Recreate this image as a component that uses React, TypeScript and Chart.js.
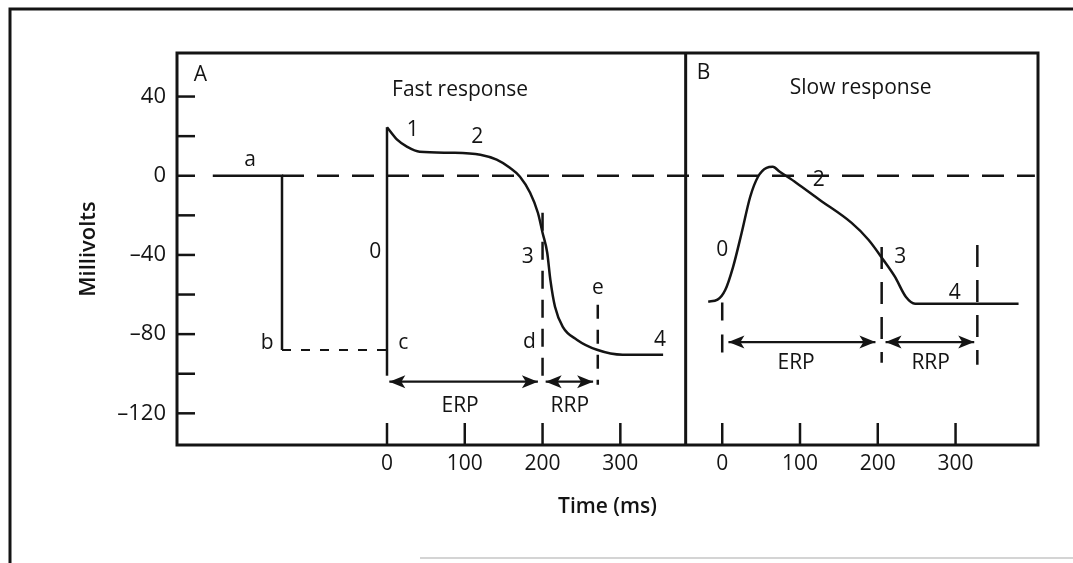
import React, { useEffect, useRef } from 'react';
import { Chart, registerables } from 'chart.js';

Chart.register(...registerables);

const INK = '#141414';
const FONT = "'Open Sans', 'DejaVu Sans', sans-serif";

// ---- axes (shared time axis; panel B is shifted by B_OFFSET) ----
const X_MIN = -270;
const X_MAX = 837;
const Y_MIN = -136;
const Y_MAX = 62;
const B_OFFSET = 431;
const PANEL_DIVIDER_X = 384;
const TIME_TICKS = [0, 100, 200, 300];
const MV_TICKS = [40, 20, 0, -20, -40, -60, -80, -100, -120];
const MV_LABELED = [40, 0, -40, -80, -120];

// ---- Panel A: fast response ----
const restT = [-224, -135, -135];
const restV = [0, 0, -88];
const restDashT = [-135, 0];
const restDashV = [-88, -88];
const zeroT = [-135, 833];
const zeroV = [0, 0];
const upstrokeT = [0, 0];
const upstrokeV = [-101, 24.5];
const fastT = [0, 13, 26, 42, 85, 120, 141, 158, 171, 184, 194, 200, 206, 210, 216, 226, 244, 270, 303, 355];
const fastV = [24.5, 18.2, 14.6, 12.1, 11.6, 10.6, 8.1, 4.0, -0.5, -8.6, -18.7, -28.8, -38.9, -52.5, -66.2, -76.3, -82.8, -87.9, -90.4, -90.4];
const markDT = [200, 200];
const markDV = [-18.7, -106.6];
const markET = [271, 271];
const markEV = [-65.2, -105.6];
const erpAT = [3, 194];
const erpAV = [-104, -104];
const rrpAT = [204, 265];
const rrpAV = [-104, -104];

// ---- Panel B: slow response (times in panel-B ms) ----
const slowT = [-18, -6, 4, 14, 25, 36, 46, 57, 65, 74, 95, 125, 166, 188, 207, 222, 236, 248, 381];
const slowV = [-63.6, -62.6, -57.6, -46, -28.8, -10.6, -0.5, 4.0, 4.5, 2.0, -3.5, -12.1, -23.7, -32.3, -42.4, -51, -61.1, -64.6, -64.6];
const markB0T = [0, 0];
const markB0V = [-64, -89.5];
const markB1T = [205, 205];
const markB1V = [-36, -94.5];
const markB2T = [328, 328];
const markB2V = [-35, -95.5];
const erpBT = [8, 197];
const erpBV = [-84, -84];
const rrpBT = [210, 324];
const rrpBV = [-84, -84];

// ---- text annotations (data coordinates) ----
const LABELS_A = [
  { text: 'A', t: -240, v: 51 },
  { text: 'Fast response', t: 94, v: 43.5 },
  { text: 'a', t: -176, v: 8 },
  { text: 'b', t: -154, v: -84.5 },
  { text: '0', t: -15, v: -38.5 },
  { text: '1', t: 33, v: 23 },
  { text: '2', t: 116, v: 19.5 },
  { text: '3', t: 181, v: -41 },
  { text: 'c', t: 21, v: -84.5 },
  { text: 'd', t: 183, v: -84 },
  { text: 'e', t: 271, v: -56.5 },
  { text: '4', t: 351, v: -83 },
  { text: 'ERP', t: 94, v: -116.5 },
  { text: 'RRP', t: 235, v: -116.5 },
];
const LABELS_B = [
  { text: 'B', t: -24, v: 52 },
  { text: 'Slow response', t: 178, v: 44.5 },
  { text: '0', t: 0, v: -37.5 },
  { text: '2', t: 124, v: -2 },
  { text: '3', t: 229, v: -41 },
  { text: '4', t: 299, v: -59 },
  { text: 'ERP', t: 95, v: -94.5 },
  { text: 'RRP', t: 268, v: -94.5 },
];

const pts = (t: number[], v: number[], off = 0) => t.map((x, i) => ({ x: x + off, y: v[i] }));

const mk = (data: any[], extra: any = {}) => ({
  data,
  borderColor: INK,
  backgroundColor: INK,
  borderWidth: 2.5,
  pointRadius: 0,
  fill: false,
  tension: 0,
  ...extra,
});

const fmtMv = (v: number) => (v < 0 ? '\u2013' + Math.abs(v) : String(v));

const framePlugin = {
  id: 'figureFrame',
  beforeDraw(chart: any) {
    const { ctx } = chart;
    ctx.save();
    ctx.fillStyle = '#ffffff';
    ctx.fillRect(0, 0, chart.width, chart.height);
    ctx.strokeStyle = INK;
    ctx.lineWidth = 3;
    ctx.beginPath();
    ctx.moveTo(10, 563);
    ctx.lineTo(10, 9);
    ctx.lineTo(1073, 9);
    ctx.stroke();
    ctx.strokeStyle = '#d4d4d4';
    ctx.lineWidth = 2;
    ctx.beginPath();
    ctx.moveTo(420, 558);
    ctx.lineTo(1073, 558);
    ctx.stroke();
    ctx.restore();
  },
  afterDraw(chart: any) {
    const { ctx, chartArea: a, scales } = chart;
    const xs = scales.x;
    const ys = scales.y;
    ctx.save();
    ctx.strokeStyle = INK;
    ctx.fillStyle = INK;
    ctx.lineWidth = 3;
    ctx.strokeRect(a.left, a.top, a.right - a.left, a.bottom - a.top);
    const seg = (x1: number, y1: number, x2: number, y2: number) => {
      ctx.beginPath();
      ctx.moveTo(x1, y1);
      ctx.lineTo(x2, y2);
      ctx.stroke();
    };
    const dx = xs.getPixelForValue(PANEL_DIVIDER_X);
    seg(dx, a.top, dx, a.bottom);
    ctx.lineWidth = 2.5;
    xs.ticks.forEach((t: any) => {
      const px = xs.getPixelForValue(t.value);
      seg(px, a.bottom, px, a.bottom - 22);
    });
    ys.ticks.forEach((t: any) => {
      const py = ys.getPixelForValue(t.value);
      seg(a.left, py, a.left + 18, py);
    });
    // arrowheads
    const head = (x: number, y: number, dir: number) => {
      ctx.beginPath();
      ctx.moveTo(x, y);
      ctx.lineTo(x - dir * 16, y - 6.5);
      ctx.lineTo(x - dir * 12, y);
      ctx.lineTo(x - dir * 16, y + 6.5);
      ctx.closePath();
      ctx.fill();
    };
    chart.data.datasets.forEach((ds: any, i: number) => {
      if (!ds.arrow) return;
      const meta = chart.getDatasetMeta(i);
      const p0 = meta.data[0];
      const p1 = meta.data[meta.data.length - 1];
      head(p0.x, p0.y, -1);
      head(p1.x, p1.y, 1);
    });
    // annotations
    ctx.font = `400 21px ${FONT}`;
    ctx.textAlign = 'center';
    ctx.textBaseline = 'middle';
    LABELS_A.forEach((l) => ctx.fillText(l.text, xs.getPixelForValue(l.t), ys.getPixelForValue(l.v)));
    LABELS_B.forEach((l) => ctx.fillText(l.text, xs.getPixelForValue(l.t + B_OFFSET), ys.getPixelForValue(l.v)));
    ctx.restore();
  },
};

export default function App() {
  const ref = useRef<HTMLCanvasElement>(null);
  useEffect(() => {
    const canvas = ref.current;
    if (!canvas) return;
    const datasets: any[] = [
      mk(pts(zeroT, zeroV), { borderDash: [22, 13] }),
      mk(pts(restDashT, restDashV), { borderDash: [9, 10], borderWidth: 2 }),
      mk(pts(restT, restV)),
      mk(pts(upstrokeT, upstrokeV)),
      mk(pts(fastT, fastV), { cubicInterpolationMode: 'monotone' }),
      mk(pts(markDT, markDV), { borderDash: [18, 11] }),
      mk(pts(markET, markEV), { borderDash: [14, 11] }),
      mk(pts(erpAT, erpAV), { arrow: true, borderWidth: 2.2 }),
      mk(pts(rrpAT, rrpAV), { arrow: true, borderWidth: 2.2 }),
      mk(pts(slowT, slowV, B_OFFSET), { cubicInterpolationMode: 'monotone' }),
      mk(pts(markB0T, markB0V, B_OFFSET), { borderDash: [18, 14] }),
      mk(pts(markB1T, markB1V, B_OFFSET), { borderDash: [22, 13] }),
      mk(pts(markB2T, markB2V, B_OFFSET), { borderDash: [22, 13] }),
      mk(pts(erpBT, erpBV, B_OFFSET), { arrow: true, borderWidth: 2.2 }),
      mk(pts(rrpBT, rrpBV, B_OFFSET), { arrow: true, borderWidth: 2.2 }),
    ];
    const chart = new Chart(canvas, {
      type: 'line',
      data: { datasets },
      plugins: [framePlugin],
      options: {
        animation: false,
        responsive: true,
        maintainAspectRatio: false,
        events: [],
        layout: { padding: { top: 53, right: 35, bottom: 0, left: 0 } },
        plugins: { legend: { display: false }, tooltip: { enabled: false } },
        scales: {
          x: {
            type: 'linear',
            position: 'bottom',
            min: X_MIN,
            max: X_MAX,
            afterBuildTicks: (s: any) => {
              s.ticks = [
                ...TIME_TICKS.map((v) => ({ value: v })),
                ...TIME_TICKS.map((v) => ({ value: v + B_OFFSET })),
              ];
            },
            afterFit: (s: any) => {
              s.height = 118;
            },
            grid: { display: false, drawTicks: false },
            border: { display: false },
            ticks: {
              autoSkip: false,
              maxRotation: 0,
              padding: 6,
              color: INK,
              font: { family: FONT, size: 21 },
              callback: (v: any) => String(v >= B_OFFSET - 50 ? v - B_OFFSET : v),
            },
            title: {
              display: true,
              text: 'Time (ms)',
              color: INK,
              font: { family: FONT, size: 21, weight: '600' },
              padding: { top: 0, bottom: 43 },
            },
          },
          y: {
            type: 'linear',
            position: 'left',
            min: Y_MIN,
            max: Y_MAX,
            afterBuildTicks: (s: any) => {
              s.ticks = MV_TICKS.map((v) => ({ value: v }));
            },
            afterFit: (s: any) => {
              s.width = 177;
            },
            grid: { display: false, drawTicks: false },
            border: { display: false },
            ticks: {
              autoSkip: false,
              padding: 11,
              color: INK,
              font: { family: FONT, size: 22 },
              callback: (v: any) => (MV_LABELED.includes(v) ? fmtMv(v) : ''),
            },
            title: {
              display: true,
              text: 'Millivolts',
              color: INK,
              font: { family: FONT, size: 22, weight: '600' },
              padding: { top: 76, bottom: 0 },
            },
          },
        },
      } as any,
    });
    return () => chart.destroy();
  }, []);
  return (
    <div style={{ position: 'fixed', left: 0, top: 0, width: 1073, height: 563, background: '#fff' }}>
      <canvas ref={ref} />
    </div>
  );
}
